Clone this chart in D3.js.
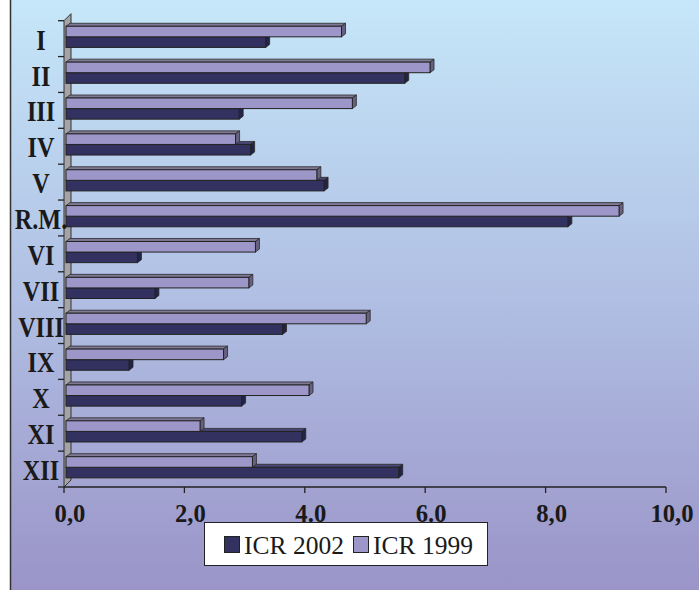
<!DOCTYPE html>
<html><head><meta charset="utf-8">
<script src="https://cdn.jsdelivr.net/npm/d3@7"></script>
<style>body{margin:0;background:#fff}svg{display:block}</style>
</head><body><svg id="c" width="699" height="590"></svg>
<script>
const categories = ["I","II","III","IV","V","R.M.","VI","VII","VIII","IX","X","XI","XII"];
const icr2002 = [3.35,5.66,2.91,3.10,4.32,8.37,1.22,1.51,3.63,1.08,2.95,3.95,5.56];
const icr1999 = [4.61,6.08,4.79,2.85,4.20,9.22,3.18,3.07,5.02,2.65,4.07,2.26,3.13];
const xTicks = [0,2,4,6,8,10];
const xTickLabels = ["0,0","2,0","4.0","6.0","8,0","10,0"];
const seriesNames = ["ICR 2002","ICR 1999"];

const svg = d3.select("#c");
const defs = svg.append("defs");
const grad = defs.append("linearGradient").attr("id","bg").attr("x1",0).attr("y1",0).attr("x2",0).attr("y2",1);
grad.append("stop").attr("offset","0%").attr("stop-color","#c6e7f9");
grad.append("stop").attr("offset","50%").attr("stop-color","#b0bfe3");
grad.append("stop").attr("offset","100%").attr("stop-color","#9a93c7");

svg.append("rect").attr("x",10.5).attr("y",-2).attr("width",700).attr("height",600)
  .attr("fill","url(#bg)").attr("stroke","#333").attr("stroke-width",1.5);

const x = d3.scaleLinear().domain([0,10]).range([64,666]);
const y = d3.scaleBand().domain(categories).range([20.7,487]);
const bh = y.bandwidth()*0.295;
const dx = 4, dy = -3;
const serif = "'Liberation Serif','Times New Roman',serif";

// wall
const wallTop = y.range()[0], wallBot = y.range()[1];
svg.append("polygon")
  .attr("points",[[x(0),wallTop],[x(0)+7,wallTop-7],[x(0)+7,wallBot-7],[x(0),wallBot]].map(p=>p.join(",")).join(" "))
  .attr("fill","#a3a3a8").attr("stroke","#333").attr("stroke-width",1);

// left ticks
const bounds = categories.map(c=>y(c)).concat([wallBot]);
svg.selectAll(".lt").data(bounds).enter().append("line")
  .attr("x1",x(0)-6).attr("x2",x(0)).attr("y1",d=>d).attr("y2",d=>d)
  .attr("stroke","#222").attr("stroke-width",1.3);

function bar3d(g, x0, x1, yTop, h, front, top, side){
  g.append("polygon").attr("points",[[x0,yTop],[x0+dx,yTop+dy],[x1+dx,yTop+dy],[x1,yTop]].map(p=>p.join(",")).join(" "))
    .attr("fill",top).attr("stroke","#2a2a2a").attr("stroke-width",0.8);
  g.append("polygon").attr("points",[[x1,yTop],[x1+dx,yTop+dy],[x1+dx,yTop+h+dy],[x1,yTop+h]].map(p=>p.join(",")).join(" "))
    .attr("fill",side).attr("stroke","#2a2a2a").attr("stroke-width",0.8);
  g.append("rect").attr("x",x0).attr("y",yTop).attr("width",x1-x0).attr("height",h)
    .attr("fill",front).attr("stroke","#222").attr("stroke-width",1);
}

const bars = svg.append("g");
categories.forEach((c,i)=>{
  const g = bars.append("g");
  const yl = y(c) + y.bandwidth()*0.155;
  bar3d(g, x(0)+2, x(icr2002[i]), yl+bh, bh, "#32315f", "#4a4878", "#232345");
  bar3d(g, x(0)+2, x(icr1999[i]), yl, bh, "#9d96c9", "#7f7995", "#676180");
});

// bottom axis
svg.append("line").attr("x1",x(0)).attr("x2",x(10)).attr("y1",wallBot).attr("y2",wallBot)
  .attr("stroke","#222").attr("stroke-width",1.3);
svg.selectAll(".bt").data(xTicks).enter().append("line")
  .attr("x1",d=>x(d)).attr("x2",d=>x(d)).attr("y1",wallBot).attr("y2",wallBot+6)
  .attr("stroke","#222").attr("stroke-width",1.3);
svg.selectAll(".bl").data(xTicks).enter().append("text")
  .attr("transform",d=>`translate(${x(d)+6},522) scale(0.95,1)`)
  .attr("text-anchor","middle").attr("font-family",serif).attr("font-weight","bold")
  .attr("font-size",26).attr("fill","#1a1a1a")
  .text((d,i)=>xTickLabels[i]);

// category labels
svg.selectAll(".cl").data(categories).enter().append("text")
  .attr("transform",c=>`translate(41,${y(c)+y.bandwidth()/2+11}) scale(0.93,1.1)`)
  .attr("text-anchor","middle").attr("font-family",serif).attr("font-weight","bold")
  .attr("font-size",26).attr("fill","#1a1a1a")
  .text(c=>c);

// legend
const lg = svg.append("g");
lg.append("rect").attr("x",204.5).attr("y",522.5).attr("width",283).attr("height",43)
  .attr("fill","#fff").attr("stroke","#222").attr("stroke-width",1);
const legItems = [{name:seriesNames[0], color:"#32315f", sx:224, tx:244},
                  {name:seriesNames[1], color:"#9d96c9", sx:353, tx:373}];
legItems.forEach(it=>{
  lg.append("rect").attr("x",it.sx+0.5).attr("y",536.5).attr("width",15).attr("height",16)
    .attr("fill",it.color).attr("stroke","#222").attr("stroke-width",1);
  lg.append("text").attr("x",it.tx).attr("y",554).attr("font-family",serif)
    .attr("font-size",25.5).attr("fill","#1a1a1a").text(it.name);
});
</script></body></html>
